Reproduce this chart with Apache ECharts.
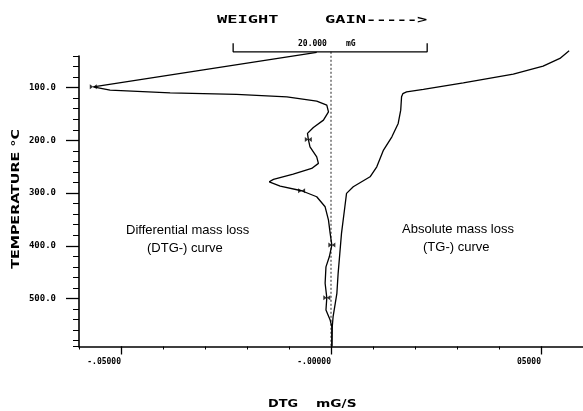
<!DOCTYPE html>
<html>
<head>
<meta charset="utf-8">
<script src="https://cdn.jsdelivr.net/npm/echarts@6/dist/echarts.min.js"></script>
<style>
html,body{margin:0;padding:0;background:#fff;}
#chart{width:583px;height:411px;}
</style>
</head>
<body>
<div id="chart"></div>
<script>
// ---- data ----
// DTG (differential) curve: x = DTG value (mG/S), y = temperature (°C)
const dtgT = [33.3, 66.4, 98.5, 104.7, 109.9, 112.9, 117.4, 125.6, 133.2, 145.9, 161.6, 175.5, 186.8, 198.2, 212.2, 231.2, 243.7, 253.2, 264.0, 274.0, 278.6, 286.7, 295.6, 307.0, 326.0, 351.2, 376.4, 398.6, 420.8, 440.0, 471.0, 498.5, 521.8, 540.8, 553.5, 591.0];
const dtgV = [-0.0034, -0.0304, -0.0566, -0.0526, -0.0383, -0.0225, -0.0105, -0.0034, -0.0010, -0.0006, -0.0018, -0.0042, -0.0056, -0.0054, -0.0050, -0.0034, -0.0030, -0.0046, -0.0090, -0.0137, -0.0147, -0.0121, -0.0070, -0.0034, -0.0014, -0.0006, -0.0002, 0.0002, -0.0004, -0.0012, -0.0014, -0.0010, -0.0012, -0.0002, 0.0002, 0.0002];
// TG (absolute) curve
const tgT = [30.2, 44.6, 59.2, 74.4, 90.9, 103.4, 108.0, 111.4, 117.4, 142.7, 167.9, 193.3, 218.5, 250.1, 269.1, 288.1, 300.6, 326.0, 376.4, 414.3, 452.2, 490.1, 534.5, 553.5, 591.0];
const tgV = [0.0567, 0.0545, 0.0505, 0.0434, 0.0315, 0.0220, 0.0180, 0.0171, 0.0168, 0.0166, 0.0160, 0.0145, 0.0125, 0.0109, 0.0093, 0.0053, 0.0037, 0.0033, 0.0025, 0.0021, 0.0017, 0.0014, 0.0005, 0.0003, 0.0002];
// markers on the DTG curve
const markT = [98.5, 198.2, 295.6, 398.6, 498.5];
const markV = [-0.0566, -0.0054, -0.0070, 0.0002, -0.0010];
// zero (dotted) reference line
const zeroLineT = [32, 591];
// 20.000 mG scale bar
const scaleBarV = [-0.0233, -0.0233, 0.0229, 0.0229];
const scaleBarT = [15.6, 32.1, 32.1, 15.6];
// ticks
const xMajorValues = [-0.05, 0, 0.05];
const xMajorLabels = ['-.05000', '-.00000', '05000'];
const yMajorValues = [100, 200, 300, 400, 500];
const yMajorLabels = ['100.0', '200.0', '300.0', '400.0', '500.0'];

const pair = (xs, ys) => xs.map((v, i) => [v, ys[i]]);
const mono = 'DejaVu Sans Mono';
const chart = echarts.init(document.getElementById('chart'));

const option = {
  animation: false,
  backgroundColor: '#fff',
  grid: { left: 79, right: 0, top: 56, bottom: 64.5 },
  xAxis: [
    { type: 'value', min: -0.06, max: 0.06, interval: 0.01, position: 'bottom',
      axisLine: { show: true, onZero: false, lineStyle: { color: '#000', width: 1.6 } },
      axisTick: { show: true, length: 3, lineStyle: { color: '#000', width: 1 } },
      axisLabel: { show: false }, splitLine: { show: false } },
    { type: 'value', min: -0.06, max: 0.06, position: 'bottom',
      axisLine: { show: false, onZero: false },
      axisTick: { show: true, length: 8, customValues: xMajorValues, lineStyle: { color: '#000', width: 1.3 } },
      axisLabel: { show: true, customValues: xMajorValues, margin: 11, align: 'right',
        fontFamily: mono, fontWeight: 'bold', fontSize: 8, color: '#000',
        formatter: v => { const i = xMajorValues.findIndex(m => Math.abs(m - v) < 1e-9); return i >= 0 ? xMajorLabels[i] : ''; } },
      splitLine: { show: false } }
  ],
  yAxis: [
    { type: 'value', inverse: true, min: 40, max: 591, interval: 20, position: 'left',
      axisLine: { show: true, onZero: false, lineStyle: { color: '#000', width: 1.6 } },
      axisTick: { show: true, length: 6, lineStyle: { color: '#000', width: 1 } },
      axisLabel: { show: false }, splitLine: { show: false } },
    { type: 'value', inverse: true, min: 40, max: 591, position: 'left',
      axisLine: { show: false, onZero: false },
      axisTick: { show: true, length: 13, customValues: yMajorValues, lineStyle: { color: '#000', width: 1.3 } },
      axisLabel: { show: true, customValues: yMajorValues, margin: 23,
        fontFamily: mono, fontWeight: 'bold', fontSize: 9, color: '#000',
        formatter: v => { const i = yMajorValues.indexOf(v); return i >= 0 ? yMajorLabels[i] : ''; } },
      splitLine: { show: false } }
  ],
  series: [
    { name: 'zero', type: 'line', xAxisIndex: 0, yAxisIndex: 0, clip: false, symbol: 'none',
      data: zeroLineT.map(t => [0, t]),
      lineStyle: { color: '#222', width: 1, type: [2, 2] } },
    { name: 'scale', type: 'line', xAxisIndex: 0, yAxisIndex: 0, clip: false, symbol: 'none',
      data: pair(scaleBarV, scaleBarT),
      lineStyle: { color: '#000', width: 1.3 } },
    { name: 'DTG', type: 'line', xAxisIndex: 0, yAxisIndex: 0, clip: false, symbol: 'none',
      data: pair(dtgV, dtgT), lineStyle: { color: '#000', width: 1.3 } },
    { name: 'TG', type: 'line', xAxisIndex: 0, yAxisIndex: 0, clip: false, symbol: 'none',
      data: pair(tgV, tgT), lineStyle: { color: '#000', width: 1.3 } },
    { name: 'marks', type: 'scatter', xAxisIndex: 0, yAxisIndex: 0, clip: false,
      symbol: 'path://M0,0 L5,3 L0,6 Z M10,0 L5,3 L10,6 Z', symbolSize: [7, 5],
      itemStyle: { color: '#000' }, data: pair(markV, markT) }
  ],
  graphic: [
    { type: 'text', x: 217, y: 20, scaleX: 1.7, style: { text: 'WEIGHT', font: 'bold 10px ' + mono, fill: '#000', textVerticalAlign: 'middle' } },
    { type: 'text', x: 325, y: 20, scaleX: 1.7, style: { text: 'GAIN----->', font: 'bold 10px ' + mono, fill: '#000', textVerticalAlign: 'middle' } },
    { type: 'text', x: 298, y: 44, style: { text: '20.000', font: 'bold 8px ' + mono, fill: '#000', textVerticalAlign: 'middle' } },
    { type: 'text', x: 346, y: 44, style: { text: 'mG', font: 'bold 8px ' + mono, fill: '#000', textVerticalAlign: 'middle' } },
    { type: 'text', x: 268, y: 404, scaleX: 1.17, style: { text: 'DTG', font: 'bold 11px "DejaVu Sans"', fill: '#000', textVerticalAlign: 'middle' } },
    { type: 'text', x: 316, y: 404, scaleX: 1.25, style: { text: 'mG/S', font: 'bold 11px "DejaVu Sans"', fill: '#000', textVerticalAlign: 'middle' } },
    { type: 'text', x: 16, y: 199, rotation: Math.PI / 2, scaleX: 1.3, style: { text: 'TEMPERATURE °C', font: 'bold 11px "DejaVu Sans"', fill: '#000', textAlign: 'center', textVerticalAlign: 'middle' } },
    { type: 'text', x: 126, y: 230, style: { text: 'Differential mass loss', font: '13px "Liberation Sans"', fill: '#000', textVerticalAlign: 'middle' } },
    { type: 'text', x: 147, y: 248, style: { text: '(DTG-) curve', font: '13px "Liberation Sans"', fill: '#000', textVerticalAlign: 'middle' } },
    { type: 'text', x: 402, y: 229, style: { text: 'Absolute mass loss', font: '13px "Liberation Sans"', fill: '#000', textVerticalAlign: 'middle' } },
    { type: 'text', x: 423, y: 247, style: { text: '(TG-) curve', font: '13px "Liberation Sans"', fill: '#000', textVerticalAlign: 'middle' } }
  ]
};
chart.setOption(option);
</script>
</body>
</html>
